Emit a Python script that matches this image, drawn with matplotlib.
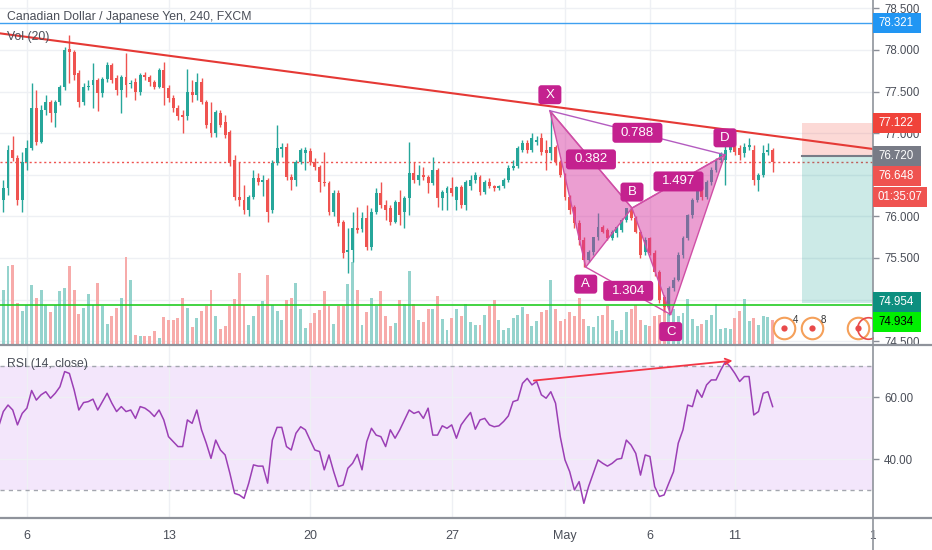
import numpy as np
import matplotlib
matplotlib.use("Agg")
import matplotlib.pyplot as plt
from matplotlib.patches import Rectangle, FancyBboxPatch, Polygon
from matplotlib.transforms import IdentityTransform, Bbox, Affine2D, blended_transform_factory
from matplotlib.lines import Line2D

plt.rcParams['font.family'] = ['Liberation Sans', 'DejaVu Sans']

# ---------------- data ----------------
TITLE = "Canadian Dollar / Japanese Yen, 240, FXCM"
VOL_TITLE = "Vol (20)"
RSI_TITLE = "RSI (14, close)"

OPEN = [76.34, 76.20, 76.34, 76.80, 76.70, 76.20, 76.65, 76.82, 77.30, 76.89,
        77.28, 77.38, 77.24, 77.38, 77.56, 78.01, 77.98, 77.72, 77.38, 77.56,
        77.58, 77.64, 77.48, 77.65, 77.82, 77.66, 77.52, 77.68, 77.59, 77.61,
        77.50, 77.70, 77.68, 77.61, 77.56, 77.76, 77.54, 77.42, 77.30, 77.22,
        77.21, 77.50, 77.46, 77.61, 77.38, 77.12, 77.00, 77.24, 77.14, 77.01,
        76.68, 76.23, 76.20, 76.08, 76.23, 76.46, 76.41, 76.44, 76.08, 76.64,
        76.81, 76.83, 76.47, 76.44, 76.65, 76.76, 76.79, 76.65, 76.59, 76.41,
        76.40, 76.05, 76.28, 75.93, 75.57, 75.60, 75.86, 75.85, 75.98, 75.63,
        76.05, 76.28, 76.14, 76.10, 75.93, 76.17, 76.05, 76.22, 76.52, 76.44,
        76.50, 76.47, 76.40, 76.56, 76.22, 76.28, 76.34, 76.20, 76.35, 76.14,
        76.37, 76.44, 76.47, 76.29, 76.41, 76.37, 76.34, 76.37, 76.44, 76.58,
        76.61, 76.80, 76.88, 76.80, 76.89, 76.94, 76.80, 76.76, 76.83, 76.65,
        76.50, 76.23, 76.11, 75.92, 75.72, 75.48, 75.57, 75.75, 75.87, 75.84,
        75.74, 75.80, 75.84, 75.96, 76.08, 75.98, 75.81, 75.57, 75.74, 75.56,
        75.33, 75.03, 74.91, 75.14, 75.24, 75.54, 75.74, 76.02, 76.20, 76.35,
        76.23, 76.41, 76.56, 76.68, 76.68, 76.80, 76.97, 76.82, 76.76, 76.83,
        76.80, 76.44, 76.50, 76.77, 76.80]
HIGH = [76.40, 76.44, 76.86, 76.97, 76.74, 76.77, 76.92, 77.60, 77.52, 77.34,
        77.46, 77.40, 77.40, 77.58, 78.04, 78.18, 78.00, 77.76, 77.60, 77.64,
        77.84, 77.66, 77.68, 77.86, 77.84, 77.70, 77.70, 77.96, 77.64, 77.66,
        77.72, 77.73, 77.70, 77.64, 77.78, 77.86, 77.58, 77.46, 77.34, 77.28,
        77.77, 77.64, 77.72, 77.66, 77.40, 77.38, 77.28, 77.28, 77.22, 77.04,
        76.74, 76.65, 76.38, 76.26, 76.56, 76.52, 76.50, 76.46, 76.68, 77.10,
        76.88, 76.88, 76.51, 76.68, 76.82, 76.83, 76.82, 76.70, 76.62, 76.77,
        76.43, 76.32, 76.32, 75.96, 75.86, 76.05, 76.11, 76.05, 76.14, 76.10,
        76.34, 76.41, 76.20, 76.14, 76.20, 76.32, 76.25, 76.89, 76.65, 76.62,
        76.59, 76.50, 76.71, 76.58, 76.32, 76.37, 76.47, 76.37, 76.38, 76.44,
        76.50, 76.53, 76.50, 76.44, 76.46, 76.38, 76.38, 76.46, 76.62, 76.68,
        76.85, 76.92, 76.92, 77.00, 76.97, 77.00, 76.92, 77.27, 76.86, 76.68,
        76.52, 76.26, 76.14, 75.96, 75.75, 75.60, 75.75, 76.04, 75.90, 75.86,
        75.84, 75.88, 75.98, 76.10, 76.11, 76.00, 75.84, 75.75, 75.75, 75.60,
        75.36, 75.05, 75.16, 75.27, 75.57, 75.76, 76.03, 76.22, 76.38, 76.37,
        76.44, 76.59, 76.70, 76.77, 76.86, 76.98, 77.00, 76.86, 76.88, 76.94,
        76.86, 76.52, 76.86, 76.88, 76.82]
LOW = [76.20, 76.05, 76.26, 76.66, 76.14, 76.05, 76.56, 76.80, 76.86, 76.88,
       77.22, 77.14, 77.07, 77.34, 77.52, 77.60, 77.64, 77.32, 77.34, 77.52,
       77.30, 77.27, 77.44, 77.61, 77.60, 77.46, 77.24, 77.44, 77.54, 77.40,
       77.46, 77.64, 77.57, 77.53, 77.54, 77.34, 77.38, 77.26, 77.16, 77.00,
       77.16, 77.38, 77.40, 77.35, 77.06, 76.95, 76.95, 77.07, 76.94, 76.61,
       76.20, 76.13, 76.03, 76.00, 76.21, 76.38, 76.25, 75.93, 76.04, 76.62,
       76.71, 76.44, 76.32, 76.37, 76.63, 76.56, 76.62, 76.56, 76.29, 76.37,
       76.02, 76.00, 75.88, 75.50, 75.32, 75.45, 75.80, 75.81, 75.60, 75.60,
       76.03, 76.10, 75.96, 75.90, 75.92, 75.90, 75.86, 76.02, 76.40, 76.38,
       76.44, 76.28, 76.38, 76.11, 76.08, 76.08, 76.25, 76.08, 76.10, 76.08,
       76.32, 76.40, 76.26, 76.27, 76.34, 76.31, 76.32, 76.34, 76.41, 76.56,
       76.58, 76.77, 76.76, 76.77, 76.86, 76.74, 76.56, 76.68, 76.62, 76.47,
       76.20, 76.03, 75.86, 75.66, 75.39, 75.45, 75.54, 75.72, 75.80, 75.72,
       75.72, 75.75, 75.81, 75.93, 75.96, 75.80, 75.50, 75.54, 75.54, 75.28,
       74.96, 74.85, 74.82, 75.10, 75.22, 75.50, 75.72, 75.98, 76.17, 76.20,
       76.21, 76.38, 76.53, 76.65, 76.38, 76.77, 76.74, 76.68, 76.71, 76.80,
       76.38, 76.31, 76.47, 76.74, 76.53]
CLOSE = [76.26, 76.34, 76.80, 76.70, 76.20, 76.65, 76.82, 77.30, 76.89, 77.28,
         77.38, 77.24, 77.38, 77.56, 78.00, 77.98, 77.70, 77.38, 77.56, 77.57,
         77.64, 77.48, 77.65, 77.82, 77.64, 77.52, 77.68, 77.58, 77.60, 77.50,
         77.70, 77.68, 77.61, 77.56, 77.76, 77.54, 77.42, 77.30, 77.21, 77.19,
         77.50, 77.46, 77.61, 77.38, 77.10, 77.00, 77.26, 77.10, 76.98, 76.64,
         76.23, 76.20, 76.08, 76.23, 76.46, 76.41, 76.44, 76.05, 76.64, 76.82,
         76.83, 76.47, 76.44, 76.65, 76.80, 76.80, 76.65, 76.59, 76.41, 76.40,
         76.05, 76.28, 75.92, 75.56, 75.60, 75.86, 75.84, 75.98, 75.63, 76.05,
         76.28, 76.14, 76.08, 75.93, 76.17, 76.02, 76.22, 76.52, 76.44, 76.50,
         76.47, 76.40, 76.56, 76.22, 76.29, 76.34, 76.28, 76.35, 76.14, 76.41,
         76.44, 76.50, 76.29, 76.41, 76.37, 76.34, 76.37, 76.44, 76.58, 76.61,
         76.82, 76.88, 76.80, 76.94, 76.92, 76.77, 76.76, 76.83, 76.65, 76.50,
         76.23, 76.08, 75.92, 75.72, 75.48, 75.57, 75.75, 75.87, 75.81, 75.74,
         75.81, 75.87, 75.96, 76.10, 75.98, 75.81, 75.54, 75.72, 75.56, 75.33,
         74.99, 74.91, 75.14, 75.24, 75.54, 75.74, 76.02, 76.20, 76.35, 76.23,
         76.41, 76.56, 76.68, 76.76, 76.80, 76.92, 76.77, 76.74, 76.83, 76.86,
         76.44, 76.50, 76.76, 76.80, 76.648]
VOLUME = [40,
          54, 78, 79, 41, 33, 39, 59, 46, 54, 39, 32, 39, 53, 56, 78, 54, 30, 36, 50, 39,
          61, 38, 20, 28, 36, 46, 87, 64, 9, 8, 8, 8, 13, 6, 27, 24, 24, 26, 46, 36,
          17, 26, 33, 38, 54, 28, 15, 18, 38, 45, 71, 39, 19, 28, 39, 43, 69, 39, 33, 24,
          44, 46, 61, 35, 16, 21, 31, 34, 53, 38, 20, 38, 38, 60, 82, 54, 19, 32, 46, 38,
          53, 28, 18, 21, 44,
          40, 73, 40, 24, 22, 35, 35, 48, 25, 14, 26, 35, 28, 40, 22, 19, 19, 29, 38, 44,
          24, 14, 16, 26, 29, 37, 30, 18, 23, 32, 34, 64, 35, 23, 25, 32, 28, 46, 25, 18,
          17, 28, 29, 38, 24, 13, 14, 32, 35, 39, 24, 19, 18, 28, 29, 39,
          30, 35,
          28, 31, 45, 25, 18, 20, 24, 29, 40, 15, 16, 15, 26, 33, 45, 23, 26, 19, 28, 27, 24]
RSI = [50.5, 55.4, 57.5, 55.9, 51.1, 54.8, 56.5, 62.2, 59.1, 60.8,
       61.8, 59.7, 61.3, 63.4, 68.3, 67.7, 62.4, 55.9, 58.3, 58.6,
       59.4, 55.9, 58.6, 61.3, 58.1, 55.4, 57.0, 55.4, 55.9, 53.2,
       57.0, 56.5, 55.4, 53.8, 55.9, 52.7, 47.3, 45.7, 44.1, 44.1,
       52.7, 51.6, 55.9, 49.5, 45.2, 40.3, 46.2, 43.0, 41.4, 35.5,
       29.0, 28.5, 27.4, 32.3, 38.2, 37.8, 37.8, 32.3, 46.2, 50.3,
       50.3, 44.1, 43.0, 48.4, 50.5, 49.5, 46.2, 43.0, 42.5, 36.6,
       41.4, 36.0, 31.2, 31.7, 37.1, 38.7, 41.6, 36.6, 45.7, 50.0,
       47.8, 47.3, 44.1, 49.5, 46.8, 49.5, 52.7, 55.9, 54.8, 55.4,
       53.2, 56.5, 47.8, 47.8, 50.8, 50.0, 51.1, 46.8, 51.1, 53.2,
       55.1, 49.7, 52.7, 53.2, 51.1, 50.5, 50.8, 52.2, 54.0, 58.6,
       59.1, 64.5, 66.1, 64.0, 65.1, 60.8, 59.7, 61.8, 58.1, 47.3,
       39.8, 36.0, 30.1, 32.8, 25.8, 31.2, 35.5, 39.8, 38.7, 37.8,
       38.7, 40.0, 40.3, 46.2, 44.6, 41.9, 34.9, 41.4, 40.9, 31.2,
       28.0, 28.5, 32.3, 36.0, 45.2, 49.5, 57.5, 57.0, 62.4, 60.0,
       64.0, 65.6, 65.6, 68.8, 71.5, 69.9, 67.7, 65.1, 66.7, 66.7,
       54.3, 55.4, 61.3, 61.8, 57.0]

DATE_TICK_BARS = [6, 36, 66, 96, 120, 138, 156, 186]
DATE_TICK_LABELS = ['6', '13', '20', '27', 'May', '6', '11', '18']
PRICE_TICKS = [78.5, 78.0, 77.5, 77.0, 76.5, 76.0, 75.5, 75.0, 74.5]
PRICE_TICKS_HIDDEN = [76.5, 75.0]   # covered by the price labels on the axis
RSI_TICKS = [60, 40]
RSI_BAND = [30, 70]

TREND_BARS = [0.3, 185.26]
TREND_PRICES = [78.20, 76.81]
RESISTANCE = 78.321
SUPPORT = 74.934
LAST_PRICE = 76.648
COUNTDOWN = "01:35:07"
POS_START_BAR = 170.2
POS_ENTRY, POS_STOP, POS_TARGET = 76.720, 77.122, 74.954

PAT_NAMES = ['X', 'A', 'B', 'C', 'D']
PAT_BARS = [116.8, 124.4, 134.2, 142.4, 153.9]
PAT_PRICES = [77.27, 75.39, 76.10, 74.82, 76.74]
PAT_RATIOS = [('X', 'B', '0.382'), ('X', 'D', '0.788'), ('A', 'C', '1.304'), ('B', 'D', '1.497')]

RSI_ARROW_BARS = [113.4, 155.5]
RSI_ARROW_VALUES = [65.4, 71.8]

EVENT_BARS = [166.4, 172.3, 182.1]
EVENT_PRICE = 74.66
EVENT_COUNTS = ['4', '8', '']

# ---------------- layout ----------------
W, H = 932, 550
AX_R = 873
fig = plt.figure(figsize=(W / 100, H / 100), dpi=100)
fig.patch.set_facecolor('white')

def fx(px):
    return px / W

def fy(py):
    return 1 - py / H

ax = fig.add_axes([0, fy(344), fx(AX_R), 344 / H])
rax = fig.add_axes([0, fy(518), fx(AX_R), (518 - 346) / H])

X_MIN, X_MAX = 0.3, 185.26
P_LIM = (74.466, 78.601)
R_LIM = (21.06, 76.55)
VOL_SCALE = 344.0

GRID = '#eef0f4'
TXT = '#4a4e58'
AXC = '#8a8e97'
UP, DN = '#26a69a', '#ef5350'
UPV, DNV = '#95d3cd', '#f7abaa'

for a in (ax, rax):
    for s in a.spines.values():
        s.set_visible(False)
    a.set_facecolor('white')
    a.set_xticks([b for b in DATE_TICK_BARS if X_MIN <= b <= X_MAX])
    a.tick_params(axis='x', length=0, labelbottom=False)
    a.yaxis.tick_right()
    a.tick_params(axis='y', length=4, width=1, color=AXC, pad=4, labelsize=8.3, labelcolor=TXT)
    a.grid(True, color=GRID, lw=1)
    a.set_axisbelow(True)

ax.set_yticks(PRICE_TICKS)
ax.set_yticklabels(["" if v in PRICE_TICKS_HIDDEN else f"{v:.3f}" for v in PRICE_TICKS])
rax.set_yticks(RSI_TICKS)
rax.set_yticklabels([f"{v:.2f}" for v in RSI_TICKS])
for a in (ax, rax):
    a.set_xlim(X_MIN, X_MAX)
ax.set_ylim(*P_LIM)
rax.set_ylim(*R_LIM)
ax.set_autoscale_on(False)
rax.set_autoscale_on(False)

# ---------------- price panel ----------------
idx = np.arange(len(CLOSE))
o = np.array(OPEN); hi = np.array(HIGH); lo = np.array(LOW); c = np.array(CLOSE)
up = c >= o
col = np.where(up, UP, DN)
vcol = np.where(up, UPV, DNV)

vol_tr = blended_transform_factory(ax.transData, Affine2D().scale(1, 1 / VOL_SCALE) + ax.transAxes)
ax.bar(idx, VOLUME, width=0.62, color=vcol, linewidth=0, transform=vol_tr, zorder=1)

ax.axhline(RESISTANCE, color='#3fa0f0', lw=1, zorder=2)
ax.axhline(LAST_PRICE, color=DN, lw=1, ls=(0, (1.5, 2)), zorder=2)

# position tool
ax.add_patch(Rectangle((POS_START_BAR, POS_ENTRY), X_MAX - POS_START_BAR, POS_STOP - POS_ENTRY,
                       facecolor='#f44336', alpha=0.2, lw=0, zorder=2))
ax.add_patch(Rectangle((POS_START_BAR, POS_TARGET), X_MAX - POS_START_BAR, POS_ENTRY - POS_TARGET,
                       facecolor='#009688', alpha=0.2, lw=0, zorder=2))
ax.plot([POS_START_BAR, X_MAX], [POS_ENTRY, POS_ENTRY], color='#787b86', lw=1.5, zorder=3)

ax.vlines(idx, lo, hi, colors=col, lw=1, zorder=3)
ax.bar(idx, np.maximum(np.abs(c - o), 0.008), bottom=np.minimum(o, c), width=0.62,
       color=col, linewidth=0, zorder=4)

ax.axhline(SUPPORT, color='#22cc22', lw=1.2, zorder=6)
ax.plot(TREND_BARS, TREND_PRICES, color='#e53935', lw=1.5, zorder=7)

# harmonic pattern
P = {n: (b, p) for n, b, p in zip(PAT_NAMES, PAT_BARS, PAT_PRICES)}
FILL = '#d6359f'
EDGE = '#cf4fa6'
TAG = '#c4218f'
for tri in (('X', 'A', 'B'), ('B', 'C', 'D')):
    ax.add_patch(Polygon([P[n] for n in tri], closed=True, facecolor=FILL, alpha=0.48,
                         edgecolor='none', zorder=5))
    ax.add_patch(Polygon([P[n] for n in tri], closed=True, facecolor='none',
                         edgecolor=EDGE, lw=1, zorder=5))
for a_, b_, _ in PAT_RATIOS:
    ax.plot([P[a_][0], P[b_][0]], [P[a_][1], P[b_][1]],
            color='#b45cc0' if (a_, b_) == ('X', 'D') else EDGE, lw=1, zorder=5)

def tag(axes, xd, yd, text, w, h, dy=0, fs=9.5):
    px, py = axes.transData.transform((xd, yd))
    py += dy
    axes.add_patch(FancyBboxPatch((px - w / 2, py - h / 2), w, h,
                                  boxstyle='round,pad=0,rounding_size=3',
                                  transform=IdentityTransform(), facecolor=TAG,
                                  edgecolor='none', zorder=9, clip_on=False))
    axes.text(px, py, text, transform=IdentityTransform(), ha='center', va='center',
              color='white', fontsize=fs, zorder=10, clip_on=False)

LETTER_DY = {'X': 16, 'A': -17, 'B': 16, 'C': -17, 'D': 17}
for n in PAT_NAMES:
    tag(ax, P[n][0], P[n][1], n, 23, 19, dy=LETTER_DY[n])
for a_, b_, t in PAT_RATIOS:
    tag(ax, (P[a_][0] + P[b_][0]) / 2, (P[a_][1] + P[b_][1]) / 2, t, 50, 20)

# events
ev_p = [EVENT_PRICE] * len(EVENT_BARS)
ax.plot(EVENT_BARS, ev_p, 'o', ms=15.5, mfc='white', mec='#f5a05a', mew=1.5, zorder=8, clip_on=False)
ax.plot(EVENT_BARS, ev_p, 'o', ms=4.5, mfc='#e84a4a', mec='none', zorder=9, clip_on=False)
ax.plot([EVENT_BARS[-1] + 2.1], [EVENT_PRICE], 'o', ms=15.5, mfc='none', mec='#e84a4a', mew=1.2,
        zorder=8, clip_on=True)
for b, t in zip(EVENT_BARS, EVENT_COUNTS):
    if t:
        px, py = ax.transData.transform((b, EVENT_PRICE))
        ax.text(px + 9, py + 8, t, transform=IdentityTransform(), fontsize=7, color='#333333',
                ha='left', va='center', zorder=10)

# ---------------- RSI panel ----------------
rax.axhspan(RSI_BAND[0], RSI_BAND[1], color='#f3e6fb', lw=0, zorder=0)
for v in RSI_BAND:
    rax.axhline(v, color='#a3a6ae', lw=1, ls=(0, (3, 3)), zorder=1)
rax.plot(idx, RSI, color='#9b3fb5', lw=1.1, zorder=3)
rax.annotate('', xy=(RSI_ARROW_BARS[1], RSI_ARROW_VALUES[1]),
             xytext=(RSI_ARROW_BARS[0], RSI_ARROW_VALUES[0]),
             arrowprops=dict(arrowstyle='->', color='#f23645', lw=1.3, mutation_scale=10,
                             shrinkA=0, shrinkB=0), zorder=4)

# ---------------- texts ----------------
fig.text(fx(7), fy(17), TITLE, fontsize=8.8, color=TXT, va='center', ha='left')
fig.text(fx(7), fy(37), VOL_TITLE, fontsize=8.8, color=TXT, va='center', ha='left')
fig.text(fx(7), fy(364), RSI_TITLE, fontsize=8.8, color=TXT, va='center', ha='left')

clip = Bbox.from_extents(0, 0, AX_R + 3, H)
for b, lab in zip(DATE_TICK_BARS, DATE_TICK_LABELS):
    px, _ = rax.transData.transform((b, 50))
    t = fig.text(round(px), H - 536, lab, transform=IdentityTransform(), fontsize=9, color=TXT,
                 ha='center', va='center')
    t.set_clip_box(clip)
    t.set_clip_on(True)

# panel separators
for yy in (345, 518):
    fig.add_artist(Line2D([0, 1], [fy(yy), fy(yy)], transform=fig.transFigure, color='#8f939b', lw=1.6, zorder=5))
fig.add_artist(Line2D([fx(AX_R), fx(AX_R)], [0, 1], transform=fig.transFigure, color='#8f939b', lw=1.2, zorder=5))

# right axis price boxes
def price_box(value, text, face, color, shift=0, width=48):
    _, py = ax.transData.transform((X_MIN, value))
    py -= shift
    fig.add_artist(Rectangle((AX_R, py - 10), width, 20, transform=IdentityTransform(),
                             facecolor=face, edgecolor='none', zorder=20))
    fig.text(AX_R + 5, py, text, transform=IdentityTransform(), fontsize=8.3, color=color,
             ha='left', va='center', zorder=21)

price_box(RESISTANCE, f"{RESISTANCE:.3f}", '#2196f3', 'white')
price_box(POS_STOP, f"{POS_STOP:.3f}", '#f0433a', 'white')
price_box(POS_ENTRY, f"{POS_ENTRY:.3f}", '#787b86', 'white')
price_box(LAST_PRICE, f"{LAST_PRICE:.3f}", '#ef5350', 'white', shift=13.5)
price_box(LAST_PRICE, COUNTDOWN, '#ef5350', 'white', shift=34.5, width=54)
price_box(POS_TARGET, f"{POS_TARGET:.3f}", '#0d8f7f', 'white', shift=-1)
price_box(SUPPORT, f"{SUPPORT:.3f}", '#00f000', 'black', shift=17)

fig.savefig('out.png', dpi=100)
